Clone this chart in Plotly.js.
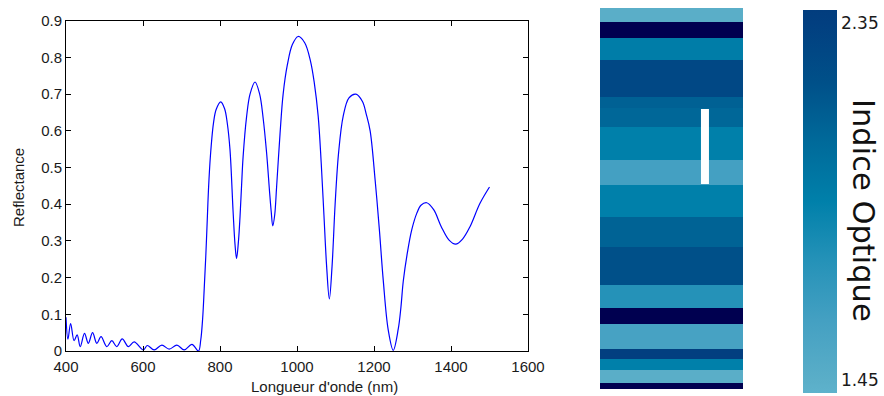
<!DOCTYPE html>
<html>
<head>
<meta charset="utf-8">
<script src="https://cdn.plot.ly/plotly-3.0.1.min.js"></script>
<style>html,body{margin:0;padding:0;background:#fff;}#plot{width:884px;height:396px;}</style>
</head>
<body>
<div id="plot"></div>
<script>
// ---- Reflectance spectrum ----
const wavelength = [400, 405, 412, 421, 429, 437, 448, 458, 469, 480, 491, 506, 519, 532, 546, 562, 577, 601, 611, 629, 649, 668, 688, 707, 727, 744,
  750, 755, 759, 763, 767, 770, 775, 783, 790, 802, 812, 819, 826, 834, 839, 843, 848, 852, 856, 860, 869, 878, 891, 903, 912, 921, 929, 933, 937,
  942, 947, 956, 964, 975, 988, 1003,
  1020, 1035, 1045, 1055, 1063, 1070, 1077, 1084, 1091, 1099, 1108, 1120, 1135, 1153, 1170, 1180, 1190, 1203, 1214, 1224, 1237, 1250, 1263, 1270,
  1276, 1287, 1298, 1311, 1322, 1337, 1355, 1375, 1395, 1412, 1430, 1449, 1475, 1500];
const reflectance = [0.092, 0.032, 0.075, 0.028, 0.044, 0.012, 0.048, 0.021, 0.050, 0.021, 0.039, 0.012, 0.028, 0.012, 0.033, 0.012, 0.025, 0.003, 0.015, 0.003, 0.016, 0.005, 0.016, 0.003, 0.018, 0.0,
  0.03, 0.09, 0.17, 0.257, 0.36, 0.438, 0.53, 0.62, 0.658, 0.679, 0.66, 0.62, 0.548, 0.38, 0.29, 0.252, 0.30, 0.366, 0.45, 0.529, 0.638, 0.70, 0.733, 0.70, 0.635, 0.54, 0.43, 0.38, 0.341,
  0.37, 0.447, 0.593, 0.70, 0.78, 0.835, 0.857,
  0.84, 0.79, 0.73, 0.64, 0.51, 0.37, 0.23, 0.142, 0.23, 0.40, 0.54, 0.64, 0.69, 0.70, 0.68, 0.645, 0.60, 0.465, 0.33, 0.193, 0.057, 0.002, 0.06, 0.12,
  0.19, 0.27, 0.33, 0.375, 0.397, 0.404, 0.385, 0.338, 0.302, 0.291, 0.305, 0.338, 0.402, 0.447];
const xTicks = [400, 600, 800, 1000, 1200, 1400, 1600];
const yTicks = [0, 0.1, 0.2, 0.3, 0.4, 0.5, 0.6, 0.7, 0.8, 0.9];

// ---- Layer stack (top to bottom) ----
const layerThickness = [13.5, 16.5, 21.5, 37.5, 11, 18.5, 33.5, 24.5, 32.5, 30, 37.5, 23, 16, 25.5, 9.5, 11, 13, 6.5];
const layerIndex = [1.45, 2.45, 1.92, 2.27, 2.10, 2.07, 1.90, 1.60, 1.90, 2.09, 2.20, 1.75, 2.45, 1.58, 2.35, 1.90, 1.45, 2.45];
const markerLayerDepth = [101, 176];
const markerPos = [0.734, 0.734];

// ---- Colour scale ----
const scaleValues = [1.45, 1.60, 1.75, 1.90, 2.05, 2.20, 2.35];
const scaleColors = ['#5aaec8', '#44a0c2', '#2592b8', '#0080aa', '#006a9a', '#005089', '#023f80'];
const overColor = '#000050';
const cbTicks = [1.45, 2.35];
const cbMin = 1.417, cbMax = 2.382;

// layer edges
const edges = [0];
layerThickness.forEach(t => edges.push(edges[edges.length - 1] + t));
const total = edges[edges.length - 1];

const lzmin = 1.45, lzmax = 2.45;
const layerScale = scaleValues.map((v, i) => [(v - lzmin) / (lzmax - lzmin), scaleColors[i]]);
layerScale.push([(2.36 - lzmin) / (lzmax - lzmin), overColor]);
layerScale.push([1, overColor]);

const cbScale = [[0, '#5eb2cc']];
scaleValues.forEach((v, i) => cbScale.push([(v - cbMin) / (cbMax - cbMin), scaleColors[i]]));
cbScale.push([1, '#023d7e']);

const W = 884, H = 396;
const px = v => v / W, py = v => 1 - v / H;

const traces = [
  {type: 'scatter', mode: 'lines', x: wavelength, y: reflectance, xaxis: 'x', yaxis: 'y',
   line: {color: '#0000ff', width: 1.2, shape: 'spline', smoothing: 1}, hoverinfo: 'skip', showlegend: false},
  {type: 'heatmap', x: [0, 1], y: edges, z: layerIndex.map(v => [v]), xaxis: 'x2', yaxis: 'y2',
   zmin: lzmin, zmax: lzmax, colorscale: layerScale, showscale: false, hoverinfo: 'skip'},
  {type: 'scatter', mode: 'lines', x: markerPos, y: markerLayerDepth, xaxis: 'x2', yaxis: 'y2',
   line: {color: '#ffffff', width: 8}, hoverinfo: 'skip', showlegend: false},
  {type: 'scatter', mode: 'markers', x: [0, 0], y: [0, 0], xaxis: 'x3', yaxis: 'y3', showlegend: false, hoverinfo: 'skip',
   marker: {color: cbTicks, cmin: cbMin, cmax: cbMax, colorscale: cbScale, opacity: 0, size: 1, showscale: true,
     colorbar: {x: px(803), xanchor: 'left', y: py(10), yanchor: 'top', len: 383, lenmode: 'pixels',
       thickness: 34, thicknessmode: 'pixels', xpad: 0, ypad: 0, outlinewidth: 0, ticks: '',
       tickvals: cbTicks, ticktext: cbTicks.map(v => v.toFixed(2)),
       tickfont: {family: 'DejaVu Sans', size: 17, color: '#1a1a1a'}, title: {text: ''}}}}
];

const axStyle = {showline: true, linecolor: '#000', linewidth: 1, mirror: 'ticks', ticks: 'inside', ticklen: 5,
  tickcolor: '#000', showgrid: false, zeroline: false, tickfont: {family: 'Liberation Sans', size: 15, color: '#1a1a1a'}};

const layout = {
  width: W, height: H, margin: {l: 0, r: 0, t: 0, b: 0}, paper_bgcolor: '#fff', plot_bgcolor: '#fff', showlegend: false,
  xaxis: Object.assign({}, axStyle, {domain: [px(66), px(528)], range: [400, 1600], tickvals: xTicks, anchor: 'y', ticklabelstandoff: 2}),
  yaxis: Object.assign({}, axStyle, {domain: [py(351), py(20.7)], range: [0, 0.9], tickvals: yTicks, anchor: 'x'}),
  xaxis2: {domain: [px(600), px(743)], range: [0, 1], visible: false, anchor: 'y2'},
  yaxis2: {domain: [py(389), py(8)], range: [total, 0], visible: false, anchor: 'x2'},
  xaxis3: {domain: [0, 0.01], visible: false, anchor: 'y3'},
  yaxis3: {domain: [0, 0.01], visible: false, anchor: 'x3'},
  annotations: [
    {text: "Longueur d'onde (nm)", xref: 'paper', yref: 'paper', x: px(324), y: py(386), showarrow: false,
     xanchor: 'center', yanchor: 'middle', font: {family: 'Liberation Sans', size: 15, color: '#1a1a1a'}},
    {text: 'Reflectance', xref: 'paper', yref: 'paper', x: px(19), y: py(188), showarrow: false, textangle: -90,
     xanchor: 'center', yanchor: 'middle', font: {family: 'Liberation Sans', size: 15, color: '#1a1a1a'}},
    {text: 'Indice Optique', xref: 'paper', yref: 'paper', x: px(864), y: py(210), showarrow: false, textangle: 90,
     xanchor: 'center', yanchor: 'middle', font: {family: 'DejaVu Sans', size: 30.5, color: '#111'}}
  ]
};

Plotly.newPlot('plot', traces, layout, {staticPlot: true, displayModeBar: false});
</script>
</body>
</html>
